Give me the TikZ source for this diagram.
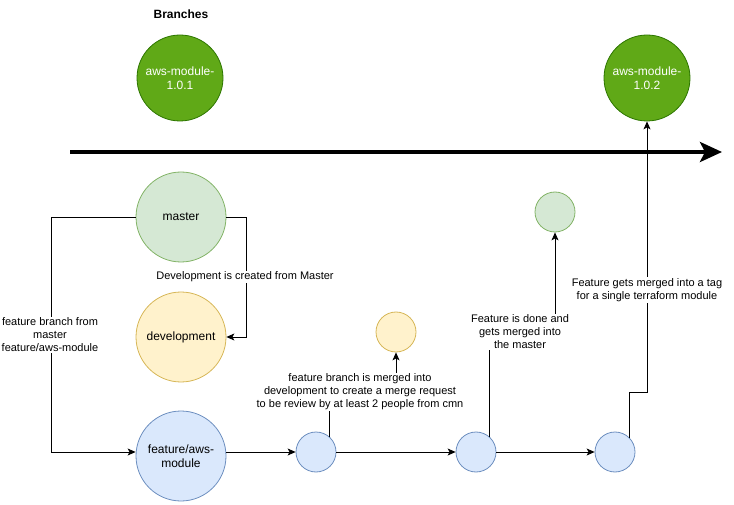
\documentclass[tikz,border=0pt]{standalone}
\usepackage{fontspec}
\setmainfont{Liberation Sans}
\usetikzlibrary{arrows.meta,calc}
\definecolor{tagfill}{HTML}{60A917}
\definecolor{tagdraw}{HTML}{2D7600}
\definecolor{grfill}{HTML}{D5E8D4}
\definecolor{grdraw}{HTML}{82B366}
\definecolor{yefill}{HTML}{FFF2CC}
\definecolor{yedraw}{HTML}{D6B656}
\definecolor{blfill}{HTML}{DAE8FC}
\definecolor{bldraw}{HTML}{6C8EBF}
\begin{document}
\begin{tikzpicture}[x=1pt,y=-1pt,
  base/.style={circle,inner sep=0pt,line width=0.8pt,align=center,font=\fontsize{12}{14}\selectfont},
  tag/.style={base,fill=tagfill,draw=tagdraw,text=white,minimum size=86pt},
  grn/.style={base,fill=grfill,draw=grdraw},
  yel/.style={base,fill=yefill,draw=yedraw},
  blu/.style={base,fill=blfill,draw=bldraw},
  big/.style={minimum size=90pt},
  small/.style={minimum size=40pt},
  lbl/.style={fill=white,inner sep=1pt,align=center,font=\fontsize{11}{13}\selectfont},
  arr/.style={line width=0.8pt,-{Stealth[length=8pt,width=7pt,inset=2pt]}},
  timeline/.style={line width=4pt,-{Stealth[length=22pt,width=20pt,inset=5pt]}}
]
\useasboundingbox (0,0) rectangle (734,505);

\node[font=\bfseries\fontsize{12}{14}\selectfont] (title) at (181,14) {Branches};

\node[tag] (t1) at (180,78) {aws-module-\\1.0.1};
\node[tag] (t2) at (647,78) {aws-module-\\1.0.2};

\coordinate (tl0) at (70,152);
\coordinate (tl1) at (722,152);
\draw[timeline] (tl0) -- (tl1);

\node[grn,big] (master) at (181,217) {master};
\node[yel,big] (dev) at (181,337) {development};
\node[blu,big] (feat) at (181,456) {feature/aws-\\module};

\node[blu,small] (c1) at (316,452) {};
\node[blu,small] (c2) at (476,452) {};
\node[blu,small] (c3) at (615,452) {};
\node[yel,small] (ys) at (396,332) {};
\node[grn,small] (gs) at (555,212) {};

% master -> development
\draw[arr] (master.east) -- ++(20,0) |- (dev.east);
\node[lbl] (l1) at (245,277) {Development is created from Master};

% master -> feature
\draw[arr] (master.west) -- ++(-84,0) |- (feat.west |- c1.west);
\node[lbl] (l2) at (50,335) {feature branch from\\master\\feature/aws-module};

% horizontal chain
\draw[arr] (feat.east |- c1.west) -- (c1.west);
\draw[arr] (c1.east) -- (c2.west);
\draw[arr] (c2.east) -- (c3.west);

% c1 -> development (yellow)
\draw[arr] (c1.49) |- ($(ys.south)+(0,40)$) -- (ys.south);
\node[lbl] (l3) at (360,392) {feature branch is merged into\\development to create a merge request\\to be review by at least 2 people from cmn};

% c2 -> master (green)
\draw[arr] (c2.49) |- ($(gs.south)+(0,100)$) -- (gs.south);
\node[lbl] (l4) at (520,332) {Feature is done and\\gets merged into\\the master};

% c3 -> tag
\draw[arr] (c3.45) |- ($(t2.south)+(0,271)$) -- (t2.south);
\node[lbl] (l5) at (647,290) {Feature gets merged into a tag\\for a single terraform module};
\end{tikzpicture}
\end{document}
